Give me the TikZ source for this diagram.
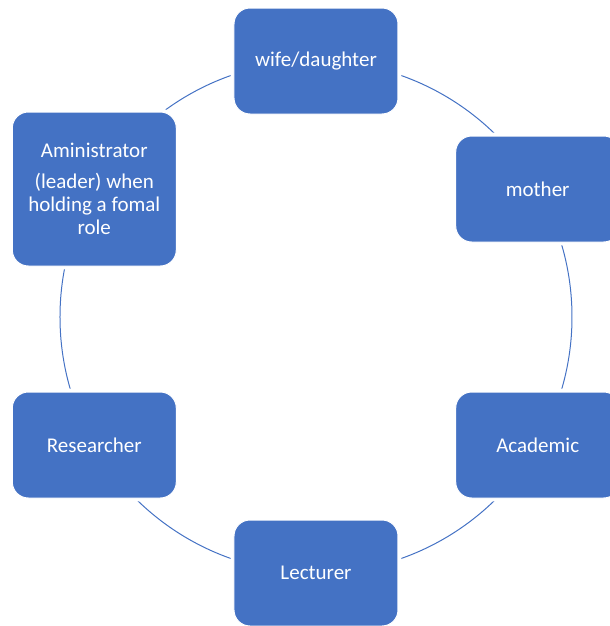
\documentclass[tikz,border=0pt]{standalone}
\usepackage{fontspec}
\setmainfont{Carlito}
\definecolor{accent}{HTML}{4472C4}
\begin{document}
\begin{tikzpicture}[x=0.75pt,y=0.75pt,
  rolebox/.style={preaction={draw=white, line width=5pt},
    draw=white, line width=0.75pt, fill=accent, rounded corners=12pt,
    minimum width=123pt, minimum height=79.5pt, inner sep=0pt,
    text=white, align=center, font=\fontsize{15.75pt}{17.25pt}\selectfont},
  ring/.style={draw=accent, line width=0.75pt}]
\useasboundingbox (-316,-309) rectangle (294,317);
\clip (-316,-309) rectangle (294,317);
% the ring that links the roles
\draw[ring] (0,0) circle[radius=256];
% the six roles around it
\node[rolebox] (wife) at (90:256) {wife/daughter};
\node[rolebox] (mother) at (30:256) {mother};
\node[rolebox] (academic) at (-30:256) {Academic};
\node[rolebox] (lecturer) at (-90:256) {Lecturer};
\node[rolebox] (researcher) at (-150:256) {Researcher};
\node[rolebox, minimum height=115.5pt] (admin) at (150:256)
  {Aministrator\\[6.5pt](leader) when\\holding a fomal\\role};
\end{tikzpicture}
\end{document}
